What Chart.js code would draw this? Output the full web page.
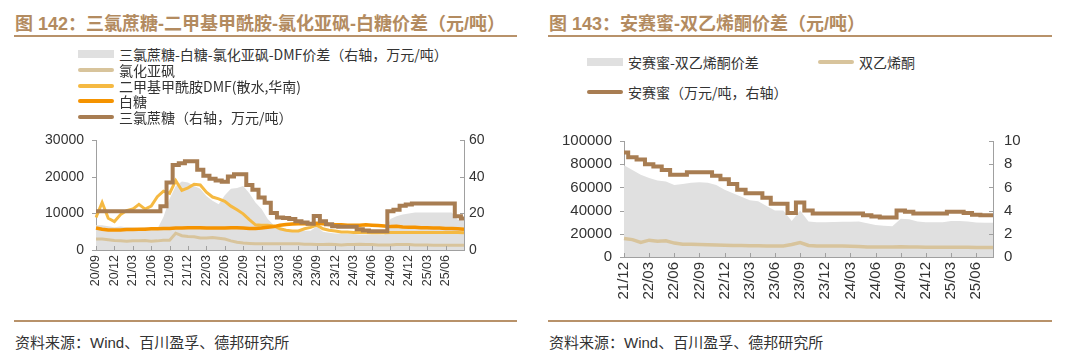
<!DOCTYPE html>
<html>
<head>
<meta charset="utf-8">
<script src="https://cdn.jsdelivr.net/npm/chart.js@4.4.1/dist/chart.umd.min.js"></script>
<style>
  body { margin: 0; width: 1080px; height: 351px; background: #fff; position: relative; overflow: hidden;
         font-family: "Liberation Sans", "Noto Sans CJK SC", sans-serif; }
  .title { position: absolute; top: 9px; font-size: 18px; font-weight: bold; color: #b38b60; white-space: nowrap; }
  .rule { position: absolute; height: 2px; background: #b8926a; }
  .src { position: absolute; top: 331px; font-size: 15px; color: #333; white-space: nowrap; }
  canvas { position: absolute; }
  .item { position: absolute; height: 16px; display: flex; align-items: center; white-space: nowrap;
          font-size: 14px; color: #333; font-family: "Noto Sans CJK SC", sans-serif; }
  .item span.sym { display: inline-block; width: 36px; margin-right: 5px; }
</style>
</head>
<body>
<div class="title" style="left:15px">图 142：三氯蔗糖-二甲基甲酰胺-氯化亚砜-白糖价差（元/吨）</div>
<div class="rule" style="left:14px; width:503px; top:35px"></div>
<div class="title" style="left:549px">图 143：安赛蜜-双乙烯酮价差（元/吨）</div>
<div class="rule" style="left:548px; width:504px; top:35px"></div>

<canvas id="chartA" width="540" height="180" style="left:0; top:120px"></canvas>
<canvas id="chartB" width="540" height="190" style="left:540px; top:120px"></canvas>

<div class="rule" style="left:14px; width:503px; top:320px"></div>
<div class="src" style="left:15px">资料来源：Wind、百川盈孚、德邦研究所</div>
<div class="rule" style="left:548px; width:504px; top:320px"></div>
<div class="src" style="left:549px">资料来源：Wind、百川盈孚、德邦研究所</div>

<script>
// ---- left chart: 20/09 .. 25/09, monthly ----
const monthsA = ['20/09','20/10','20/11','20/12','21/01','21/02','21/03','21/04','21/05','21/06','21/07','21/08',
  '21/09','21/10','21/11','21/12','22/01','22/02','22/03','22/04','22/05','22/06','22/07','22/08',
  '22/09','22/10','22/11','22/12','23/01','23/02','23/03','23/04','23/05','23/06','23/07','23/08',
  '23/09','23/10','23/11','23/12','24/01','24/02','24/03','24/04','24/05','24/06','24/07','24/08',
  '24/09','24/10','24/11','24/12','25/01','25/02','25/03','25/04','25/05','25/06','25/07','25/08','25/09'];

// spread, right axis (万元/吨)
const spreadA = [13.5,13.5,13,12.5,12.8,12.5,12.5,12,12.5,12,11.5,
  18,28,35,37.5,37,35,33.5,29.5,27,25,30,33.5,34,35,31,26,22.5,17,13.5,11.5,11,11,10.5,10.5,10.5,13,10,9.5,
  9,9,9,8.8,8.5,8.5,8.5,8.5,8.3,17,18.5,19.5,20,20.5,20.5,20.5,20.5,20.5,20.5,20.5,16.5,16];
// thionyl chloride
const socl2A = [3000,3000,2800,2600,2500,2400,2500,2500,2600,2400,2500,2700,2700,4600,3900,3700,3600,3300,
  3300,3400,3200,3000,2500,2100,1900,1800,1700,1700,1700,1700,1700,1700,1700,1700,1600,1600,
  1500,1500,1600,1500,1400,1500,1500,1600,1500,1500,1400,1400,1400,1500,1500,1500,1400,1400,1400,
  1300,1300,1300,1300,1300,1300];
// DMF
const dmfA = [8900,13000,8700,7800,9700,10800,11200,12500,11200,12000,14600,16100,15500,19000,16300,17000,
  18000,17800,15800,14500,14000,13300,12000,11000,9900,8300,6900,6800,6800,
  6600,5800,5400,5200,5200,5800,6200,6800,5800,5400,5200,
  4900,4900,4800,4800,4800,4700,4700,4700,4800,4800,4800,4800,4800,4800,4800,4800,4800,4800,4800,4800,4700];
// white sugar
const sugarA = [6000,5700,5500,5500,5500,5600,5600,5700,5700,5800,5800,5900,5900,6000,6000,6100,6100,6100,
  6000,6000,6000,6000,6100,6100,6000,5900,5900,6000,6200,6400,6800,7000,7100,7200,7200,7200,7300,7200,
  7000,6900,6900,6800,6800,6800,6900,6800,6700,6600,6400,6500,6300,6200,6200,6100,6100,6000,6000,
  5900,5900,5800,5700];
// sucralose, right axis (万元/吨)
const sucraloseA = [21.2,21.2,21.2,21.2,21.2,21.2,21.2,21.2,21.2,21.2,21.2,
  24,37,46.6,47.5,48.6,48.6,44,40.7,39,38.1,37.3,40.2,41.5,41.5,35.6,33,28.8,25.9,20.3,17.8,17.5,17,
  15.8,15.1,14.4,18.6,15.8,14.1,13,12.7,12.7,12.7,11.4,10.7,10.2,10.2,10.2,21.2,22,24.2,24.9,
  25.4,25.4,25.4,25.4,25.4,25.4,25.4,18.5,17.3];

// ---- right chart: 21/12 .. 25/08, monthly ----
const monthsB = ['21/12','22/01','22/02','22/03','22/04','22/05','22/06','22/07','22/08','22/09','22/10','22/11',
  '22/12','23/01','23/02','23/03','23/04','23/05','23/06','23/07','23/08','23/09','23/10','23/11',
  '23/12','24/01','24/02','24/03','24/04','24/05','24/06','24/07','24/08','24/09','24/10','24/11',
  '24/12','25/01','25/02','25/03','25/04','25/05','25/06','25/07','25/08'];
const spreadB = [79000,75000,71000,68000,66000,65000,62000,63000,64000,64500,64000,62000,58000,55000,52000,
  49000,48000,44000,40000,40000,31000,40000,30500,30000,30000,30200,30300,30300,30500,29000,27500,27000,
  26500,33000,32500,30500,30000,30000,30000,31000,31000,30500,29800,29500,29500];
const diketeneB = [16000,15000,12500,14500,13500,14000,12000,11000,11000,10800,10500,10300,10200,10000,10000,
  9800,9700,9500,9400,9500,10800,12500,10000,9500,9500,9400,9400,9300,9000,8700,8600,8600,8700,8800,
  8700,8600,8500,8500,8500,8400,8400,8300,8200,8100,8100];
const acesulfameB = [9.0,8.6,8.4,8.0,7.8,7.5,7.1,7.1,7.3,7.3,7.3,7.0,6.7,6.3,5.8,5.5,5.5,5.1,4.6,4.6,3.8,4.7,
  4.0,3.75,3.75,3.75,3.75,3.75,3.75,3.6,3.5,3.4,3.4,4.0,3.9,3.75,3.75,3.75,3.75,3.9,3.9,3.8,3.65,3.6,3.6];

const BROWN = '#a87d52', BEIGE = '#d8c49c', YELLOW = '#f5b942', ORANGE = '#f59300', GREY = '#e0e0e0', AXIS = '#a0a0a0';

Chart.defaults.font.family = '"Liberation Sans", Arial, sans-serif';
Chart.defaults.color = '#333';

// small tick marks like the original (y: to the left, x: upward)
const tickMarks = {
  id: 'tickMarks',
  afterDraw(chart) {
    const ctx = chart.ctx;
    ctx.save();
    ctx.strokeStyle = AXIS;
    ctx.lineWidth = 1;
    const xs = chart.scales.x;
    xs.ticks.forEach((t, i) => {
      if (t.label == null || t.label === '') return;
      const px = Math.round(xs.getPixelForTick(i)) + 0.5;
      ctx.beginPath(); ctx.moveTo(px, xs.top); ctx.lineTo(px, xs.top - 4); ctx.stroke();
    });
    ['y', 'y1'].forEach(id => {
      const s = chart.scales[id];
      const ax = s.position === 'left' ? s.right : s.left;
      s.ticks.forEach((t, i) => {
        const py = Math.round(s.getPixelForTick(i)) + 0.5;
        ctx.beginPath(); ctx.moveTo(ax - 4, py); ctx.lineTo(ax, py); ctx.stroke();
      });
    });
    ctx.restore();
  }
};

function line(label, data, color, width, axis, order, stepped) {
  return { label, data, borderColor: color, backgroundColor: color, borderWidth: width,
           yAxisID: axis, pointRadius: 0, fill: false, order, stepped: stepped || false };
}
function area(label, data, axis) {
  return { label, data, borderWidth: 0, borderColor: GREY, backgroundColor: GREY,
           yAxisID: axis, pointRadius: 0, fill: 'origin', order: 10 };
}

function options(o) {
  return {
    responsive: false,
    animation: false,
    layout: { padding: { top: o.top, left: 0, right: 0, bottom: 0 } },
    plugins: { legend: { display: false }, tooltip: { enabled: false } },
    elements: { line: { tension: 0 } },
    scales: {
      x: {
        grid: { display: false, drawTicks: false },
        border: { color: AXIS },
        ticks: {
          autoSkip: false, minRotation: 90, maxRotation: 90, padding: 5,
          font: { size: o.xFont },
          callback(v, i) {
            return (i % 3 === 0 && i < this.chart.data.labels.length - 1) ? this.getLabelForValue(v) : null;
          }
        },
        afterFit(s) { s.height = o.xH; }
      },
      y: {
        position: 'left', min: 0, max: o.yMax,
        grid: { display: false, drawTicks: false },
        border: { color: AXIS },
        ticks: { stepSize: o.yStep, padding: 12, font: { size: o.yFont }, callback: v => String(v) },
        afterFit(s) { s.width = o.yW; }
      },
      y1: {
        position: 'right', min: 0, max: o.y1Max,
        grid: { display: false, drawTicks: false },
        border: { color: AXIS },
        ticks: { stepSize: o.y1Step, padding: o.y1Pad, font: { size: o.yFont }, callback: v => String(v) },
        afterFit(s) { s.width = o.y1W; }
      }
    }
  };
}

const chartA = new Chart(document.getElementById('chartA'), {
  type: 'line',
  data: {
    labels: monthsA,
    datasets: [
      area('三氯蔗糖-白糖-氯化亚砜-DMF价差（右轴，万元/吨）', spreadA, 'y1'),
      line('氯化亚砜', socl2A, BEIGE, 3, 'y', 4),
      line('二甲基甲酰胺DMF(散水,华南)', dmfA, YELLOW, 3, 'y', 3),
      line('白糖', sugarA, ORANGE, 3.5, 'y', 2),
      line('三氯蔗糖（右轴，万元/吨）', sucraloseA, BROWN, 4, 'y1', 1, 'middle')
    ]
  },
  options: options({ top: 11, xH: 50, yW: 96, y1W: 76, yMax: 30000, yStep: 10000, y1Max: 60, y1Step: 20,
                     y1Pad: 5, xFont: 12.5, yFont: 14 }),
  plugins: [tickMarks]
});

const chartB = new Chart(document.getElementById('chartB'), {
  type: 'line',
  data: {
    labels: monthsB,
    datasets: [
      area('安赛蜜-双乙烯酮价差', spreadB, 'y'),
      line('双乙烯酮', diketeneB, BEIGE, 3.5, 'y', 2),
      line('安赛蜜（万元/吨，右轴）', acesulfameB, BROWN, 4, 'y1', 1, 'middle')
    ]
  },
  options: options({ top: 12.5, xH: 53, yW: 84, y1W: 87, yMax: 100000, yStep: 20000, y1Max: 10, y1Step: 2,
                     y1Pad: 11, xFont: 15, yFont: 15 }),
  plugins: [tickMarks]
});

// HTML legends built from the datasets
function legend(chart, spots) {
  chart.data.datasets.forEach((ds, i) => {
    const el = document.createElement('div');
    el.className = 'item';
    el.style.left = spots[i][0] + 'px';
    el.style.top = (spots[i][1] - 8) + 'px';
    const sym = document.createElement('span');
    sym.className = 'sym';
    if (ds.fill) { sym.style.height = '8px'; sym.style.background = ds.backgroundColor; }
    else { sym.style.height = '4px'; sym.style.background = ds.borderColor; sym.style.borderRadius = '2px'; }
    el.appendChild(sym);
    el.appendChild(document.createTextNode(ds.label));
    document.body.appendChild(el);
  });
}
legend(chartA, [[78, 54], [78, 70], [78, 85.5], [78, 101], [78, 116.5]]);
legend(chartB, [[587, 62], [818, 62], [587, 92]]);
</script>
</body>
</html>
